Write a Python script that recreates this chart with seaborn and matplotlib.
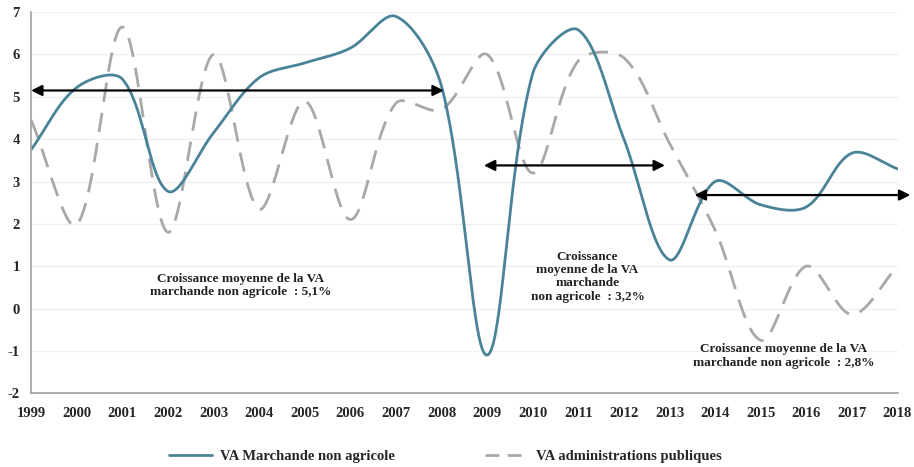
import numpy as np
import pandas as pd
import matplotlib
matplotlib.use("Agg")
import matplotlib.pyplot as plt
import seaborn as sns
from matplotlib.lines import Line2D

years = list(range(1999, 2019))
va_marchande = [3.75, 5.22, 5.42, 2.77, 4.15, 5.45, 5.80, 6.15, 6.90, 5.25,
                -1.10, 5.55, 6.58, 4.00, 1.15, 3.00, 2.45, 2.40, 3.67, 3.30]
va_admin = [4.45, 1.98, 6.65, 1.80, 6.00, 2.35, 4.90, 2.10, 4.85, 4.70,
            6.00, 3.20, 5.85, 5.92, 3.90, 1.85, -0.75, 1.00, -0.14, 1.00]
labels = ["VA Marchande non agricole", "VA administrations publiques"]
yticks = list(range(-2, 8))

annotations = [
    ("Croissance moyenne de la VA\nmarchande non agricole  : 5,1%", 2003.6, 0.55),
    ("Croissance\nmoyenne de la VA\nmarchande\nnon agricole  : 3,2%", 2011.2, 0.75),
    ("Croissance moyenne de la VA\nmarchande non agricole  : 2,8%", 2015.5, -1.12),
]
arrows = [(1999.0, 2008.05, 5.15), (2008.93, 2012.9, 3.38), (2013.55, 2018.28, 2.68)]

XS, YS = 45.6, 42.3  # screen scale (px per year / px per unit) for smoothing


def smooth(x, y, n=40):
    """Excel-like smoothed line: 2D Bezier with chord-length weighted tangents."""
    P = np.column_stack([np.asarray(x, float) * XS, np.asarray(y, float) * YS])
    m = len(P)
    d = np.linalg.norm(np.diff(P, axis=0), axis=1)
    out_c, in_c = [], []
    for i in range(m):
        if i == 0:
            T = P[1] - P[0]
            out_c.append(P[0] + T / 3)
            in_c.append(P[0])
            continue
        if i == m - 1:
            T = P[-1] - P[-2]
            in_c.append(P[-1] - T / 3)
            out_c.append(P[-1])
            continue
        T = P[i + 1] - P[i - 1]
        s = d[i - 1] + d[i]
        out_c.append(P[i] + T * d[i] / s / 3)
        in_c.append(P[i] - T * d[i - 1] / s / 3)
    pts = []
    t = np.linspace(0, 1, n, endpoint=False)[:, None]
    for i in range(m - 1):
        b0, b1, b2, b3 = P[i], out_c[i], in_c[i + 1], P[i + 1]
        seg = ((1 - t) ** 3) * b0 + 3 * ((1 - t) ** 2) * t * b1 + 3 * (1 - t) * t**2 * b2 + t**3 * b3
        pts.append(seg)
    pts.append(P[-1:])
    pts = np.vstack(pts)
    return pts[:, 0] / XS, pts[:, 1] / YS


sns.set_theme(style="white")
plt.rcParams["font.family"] = ["Liberation Serif", "DejaVu Serif"]
plt.rcParams["font.weight"] = "bold"

blue = "#4a8398"
gray = "#a8a8a8"

fig = plt.figure(figsize=(9.14, 4.67), dpi=100)
ax = fig.add_axes([0.034, 0.158, 0.948, 0.816])

sx, sy = smooth(years, va_admin)
sns.lineplot(x=sx, y=sy, ax=ax, color=gray, linewidth=2.0,
             linestyle=(0, (7, 4)), estimator=None, sort=False)
bx, by = smooth(years, va_marchande)
sns.lineplot(x=bx, y=by, ax=ax, color=blue, linewidth=2.0, estimator=None, sort=False)

ax.set_xlim(1999, 2018)
ax.set_ylim(-2, 7)
ax.set_yticks(yticks)
ax.set_xticks(years)
ax.set_xticklabels([str(y) for y in years], fontsize=10.5, fontweight="bold")
ax.set_yticklabels([str(v) for v in yticks], fontsize=10.5, fontweight="bold")
ax.grid(axis="y", color="#f0f0f0", linewidth=1)
for s in ["top", "right"]:
    ax.spines[s].set_visible(False)
for s in ["left", "bottom"]:
    ax.spines[s].set_color("#a0a0a0")
    ax.spines[s].set_linewidth(1.2)
ax.tick_params(axis="x", direction="in", length=4, color="#a0a0a0", pad=10)
ax.tick_params(axis="y", length=0, pad=8)
ax.set_xlabel("")
ax.set_ylabel("")

for x0, x1, yv in arrows:
    ax.annotate("", xy=(x1, yv), xytext=(x0, yv),
                arrowprops=dict(arrowstyle="<|-|>", color="black", lw=1.6,
                                mutation_scale=16, shrinkA=0, shrinkB=0),
                annotation_clip=False)

for txt, xv, yv in annotations:
    ax.text(xv, yv, txt, ha="center", va="center", fontsize=9.5,
            fontweight="bold", linespacing=1.15, color="#222222")

handles = [Line2D([], [], color=blue, lw=2.0),
           Line2D([], [], color=gray, lw=2.0, linestyle=(0, (5, 3)))]
fig.legend(handles, labels, loc="center", bbox_to_anchor=(0.487, 0.022), ncol=2,
           frameon=False, fontsize=10.5, handlelength=3.0, columnspacing=6.2,
           handletextpad=0.5)

fig.savefig("out.png", dpi=100)
